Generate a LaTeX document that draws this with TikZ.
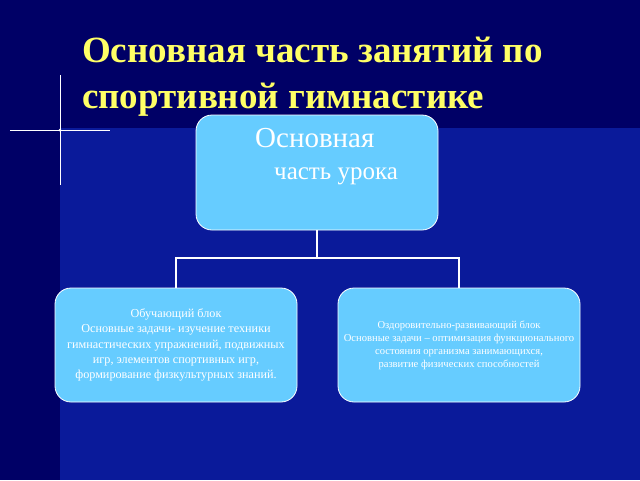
\documentclass[tikz,border=0pt]{standalone}
\usepackage{fontspec}
\setmainfont{Liberation Serif}
\begin{document}
\begin{tikzpicture}[x=1pt,y=-1pt,
  box/.style={draw=white,line width=0.8pt,fill=boxc,rounded corners=16pt,text=white,align=center,inner sep=0pt},
  conn/.style={draw=white,line width=1.2pt}]
\definecolor{boxc}{HTML}{66CCFF}
\definecolor{bgmain}{HTML}{0A1A9A}
\definecolor{bgdark}{HTML}{000066}
\definecolor{titlec}{HTML}{FFFF66}
\useasboundingbox (0,0) rectangle (640,480);
\fill[bgmain] (0,0) rectangle (640,480);
\fill[bgdark] (0,0) rectangle (640,128);
\fill[bgdark] (0,0) rectangle (60,480);
\draw[white,line width=0.6pt] (10,130) -- (110,130);
\draw[white,line width=0.6pt] (60,75) -- (60,185);
\fill[white] (60,130) circle (1.5);
\node[anchor=west,text=titlec,font=\bfseries\fontsize{37}{37}\selectfont,inner sep=0pt] (t1) at (82,50) {Основная часть занятий по};
\node[anchor=west,text=titlec,font=\bfseries\fontsize{37}{37}\selectfont,inner sep=0pt] (t2) at (82,100) {спортивной гимнастике};
\node[box,minimum width=242,minimum height=115] (top) at (317,172.5) {};
\node[text=white,font=\fontsize{29}{29}\selectfont,anchor=west,inner sep=0pt] (toptxt1) at (255,138) {Основная};
\node[text=white,font=\fontsize{25}{25}\selectfont,anchor=west,inner sep=0pt] (toptxt2) at (274,176) {часть урока};
\node[box,minimum width=242,minimum height=114,font=\fontsize{12.2}{15.3}\selectfont] (left) at (176,345) {Обучающий блок\\Основные задачи- изучение техники\\гимнастических упражнений, подвижных\\игр, элементов спортивных игр,\\формирование физкультурных знаний.};
\node[box,minimum width=242,minimum height=114,font=\fontsize{10.6}{13}\selectfont] (right) at (459,345) {Оздоровительно-развивающий блок\\Основные задачи -- оптимизация функционального\\состояния организма занимающихся,\\развитие физических способностей};
\coordinate (j) at (317,258);
\draw[conn] (top.south) -- (j);
\draw[conn] (j) -| (left.north);
\draw[conn] (j) -| (right.north);
\end{tikzpicture}
\end{document}
